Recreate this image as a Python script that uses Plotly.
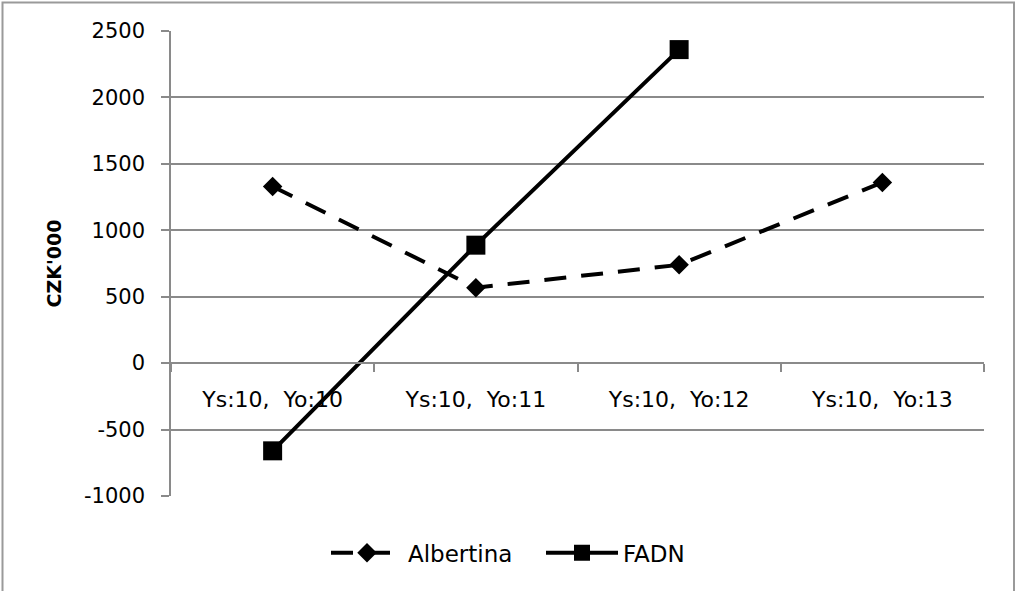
import plotly.graph_objects as go

# Period categories and series values (CZK thousands)
categories = ["Ys:10,\u00a0\u00a0Yo:10", "Ys:10,\u00a0\u00a0Yo:11", "Ys:10,\u00a0\u00a0Yo:12", "Ys:10,\u00a0\u00a0Yo:13"]
albertina = [1330, 568, 740, 1360]
fadn = [-660, 888, 2360, None]
y_ticks = [-1000, -500, 0, 500, 1000, 1500, 2000, 2500]
y_tick_text = [str(v) for v in y_ticks]  # plain hyphen for negatives

W, H = 1016, 591
ML, MR, MT, MB = 171, 32, 31, 95
GRID = "#8a8a8a"
FONT = "DejaVu Sans"
pw, ph = W - ML - MR, H - MT - MB

fig = go.Figure()
fig.add_trace(go.Scatter(
    x=categories, y=albertina, name="Albertina", mode="lines+markers",
    line=dict(color="black", width=4, dash="22px,15px"),
    marker=dict(symbol="diamond", size=15, color="black"),
))
fig.add_trace(go.Scatter(
    x=categories, y=fadn, name="FADN", mode="lines+markers",
    line=dict(color="black", width=4),
    marker=dict(symbol="square", size=19, color="black"),
))

y_min, y_max = y_ticks[0], y_ticks[-1]
zero_frac = (0 - y_min) / (y_max - y_min)

fig.update_layout(
    width=W, height=H,
    margin=dict(l=ML, r=MR, t=MT, b=MB, autoexpand=False),
    paper_bgcolor="white", plot_bgcolor="white",
    font=dict(family=FONT, color="black"),
    showlegend=True,
    legend=dict(
        orientation="h", x=(326 - ML) / pw, xanchor="left",
        y=-0.122, yanchor="middle", font=dict(size=23, family=FONT),
        itemwidth=72, entrywidth=128, bgcolor="rgba(0,0,0,0)",
    ),
    xaxis=dict(
        type="category", range=[-0.5, len(categories) - 0.5],
        anchor="free", position=zero_frac,
        showline=True, linecolor=GRID, linewidth=1.5,
        ticks="outside", tickson="boundaries", ticklen=8, tickcolor=GRID, tickwidth=1.5,
        showgrid=False, zeroline=False, tickangle=0,
        tickfont=dict(size=22, family=FONT, color="black"),
        ticklabelstandoff=17,
    ),
    yaxis=dict(
        range=[y_min, y_max], tickvals=y_ticks, ticktext=y_tick_text,
        showline=True, linecolor=GRID, linewidth=1.5,
        ticks="outside", ticklen=8, tickcolor=GRID, tickwidth=1.5,
        showgrid=True, gridcolor=GRID, gridwidth=1.5, zeroline=False,
        tickfont=dict(size=21, family=FONT, color="black"),
        ticklabelstandoff=12,
    ),
    annotations=[dict(
        text="<b>CZK'000</b>", xref="paper", yref="paper", x=0, y=0.5,
        xanchor="center", yanchor="middle", xshift=-118, textangle=-90,
        showarrow=False, font=dict(size=19, family=FONT, color="black"),
    )],
)

# Outer chart frame (bottom edge runs past the canvas)
fig.add_shape(
    type="rect", xref="paper", yref="paper", layer="above",
    x0=(2.5 - ML) / pw, x1=(W - 2 - ML) / pw,
    y0=(H - MB - (H + 10)) / ph, y1=(H - MB - 2.5) / ph,
    line=dict(color="#9a9a9a", width=2), fillcolor="rgba(0,0,0,0)",
)

fig.write_html("out.html")
